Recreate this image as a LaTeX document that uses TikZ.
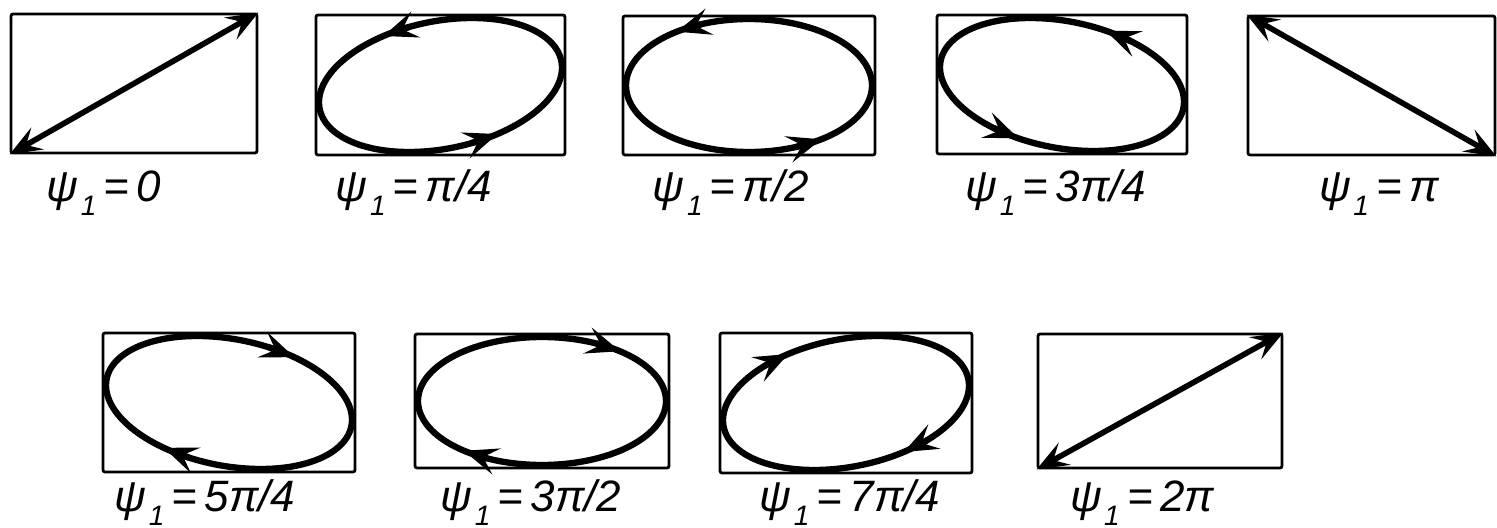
\documentclass[tikz,border=0pt]{standalone}
\usepackage{fontspec}
\setmainfont{Liberation Sans}
\usetikzlibrary{arrows.meta,positioning}
\newcommand\psione{ψ\kern0.6pt\raisebox{-0.6ex}{\footnotesize 1}}
\tikzset{
  >=Stealth,
  % --- screen frames ------------------------------------------------------
  panel/.style = {draw=black, line width=0.8pt, rounded corners=0.6pt,
                  inner sep=0pt},
  % --- traces -------------------------------------------------------------
  wave/.style  = {draw=black, line width=1.8pt},
  tip/.style   = {wave, -{Stealth[length=3.4mm,width=2.7mm,inset=1.4mm]}},
  diag/.style  = {draw=black, line width=1.6pt,
                  {Stealth[length=3.2mm,width=2.5mm,inset=1.3mm]}-{Stealth[length=3.2mm,width=2.5mm,inset=1.3mm]}},
  % --- labels -------------------------------------------------------------
  lbl/.style   = {font=\fontsize{12.5}{14}\selectfont\itshape, anchor=base,
                  inner sep=0pt},
}
\begin{document}
\begin{tikzpicture}
\useasboundingbox (0,0) rectangle (14.97,5.28);

% ------------------------------- frames ------------------------------------
\foreach \n/\x/\y/\w/\h in {1/1.34/4.445/2.46/1.39, 2/4.405/4.43/2.49/1.40,
    3/7.49/4.425/2.52/1.39, 4/10.62/4.435/2.50/1.39, 5/13.715/4.425/2.47/1.39,
    6/2.29/1.255/2.52/1.39, 7/5.42/1.27/2.54/1.34, 8/8.46/1.25/2.52/1.40,
    9/11.60/1.27/2.44/1.34}
  \node[panel, minimum width=\w cm, minimum height=\h cm] (p\n) at (\x,\y) {};

% --------------------------- straight lines --------------------------------
\draw[diag] (p1.south west) -- (p1.north east);
\draw[diag] (p5.north west) -- (p5.south east);
\draw[diag] (p9.south west) -- (p9.north east);

% ------------------------------ ellipses -----------------------------------
\foreach \cx/\cy/\a/\b/\ph/\ta/\tb in {4.405/4.43/1.215/0.67/75/115/295,
    7.49/4.425/1.23/0.665/90/123/303, 10.62/4.435/1.22/0.665/105/66/246,
    2.29/1.255/1.23/0.665/255/119/299, 5.42/1.27/1.24/0.64/270/126/306,
    8.46/1.25/1.23/0.67/285/59/239}{
  \draw[wave] plot[smooth cycle, domain=0:355, samples=72]
        ({\cx+\a*cos(\x)},{\cy+\b*cos(\x-\ph)});
  \foreach \t in {\ta,\tb}
    \draw[tip] ({\cx+\a*cos(\t-10)},{\cy+\b*cos(\t-10-\ph)})
            -- ({\cx+\a*cos(\t+3)},{\cy+\b*cos(\t+3-\ph)});
}

% ------------------------------- labels ------------------------------------
\node[lbl] (l1) at (1.04,3.26)  {\psione\,=\,0};
\node[lbl] (l2) at (4.14,3.26)  {\psione\,=\,π/4};
\node[lbl] (l3) at (7.31,3.26)  {\psione\,=\,π/2};
\node[lbl] (l4) at (10.56,3.26) {\psione\,=\,3π/4};
\node[lbl] (l5) at (13.79,3.26) {\psione\,=\,π};
\node[lbl] (l6) at (2.05,0.16)  {\psione\,=\,5π/4};
\node[lbl] (l7) at (5.31,0.16)  {\psione\,=\,3π/2};
\node[lbl] (l8) at (8.50,0.16)  {\psione\,=\,7π/4};
\node[lbl] (l9) at (11.42,0.16) {\psione\,=\,2π};

\end{tikzpicture}
\end{document}
